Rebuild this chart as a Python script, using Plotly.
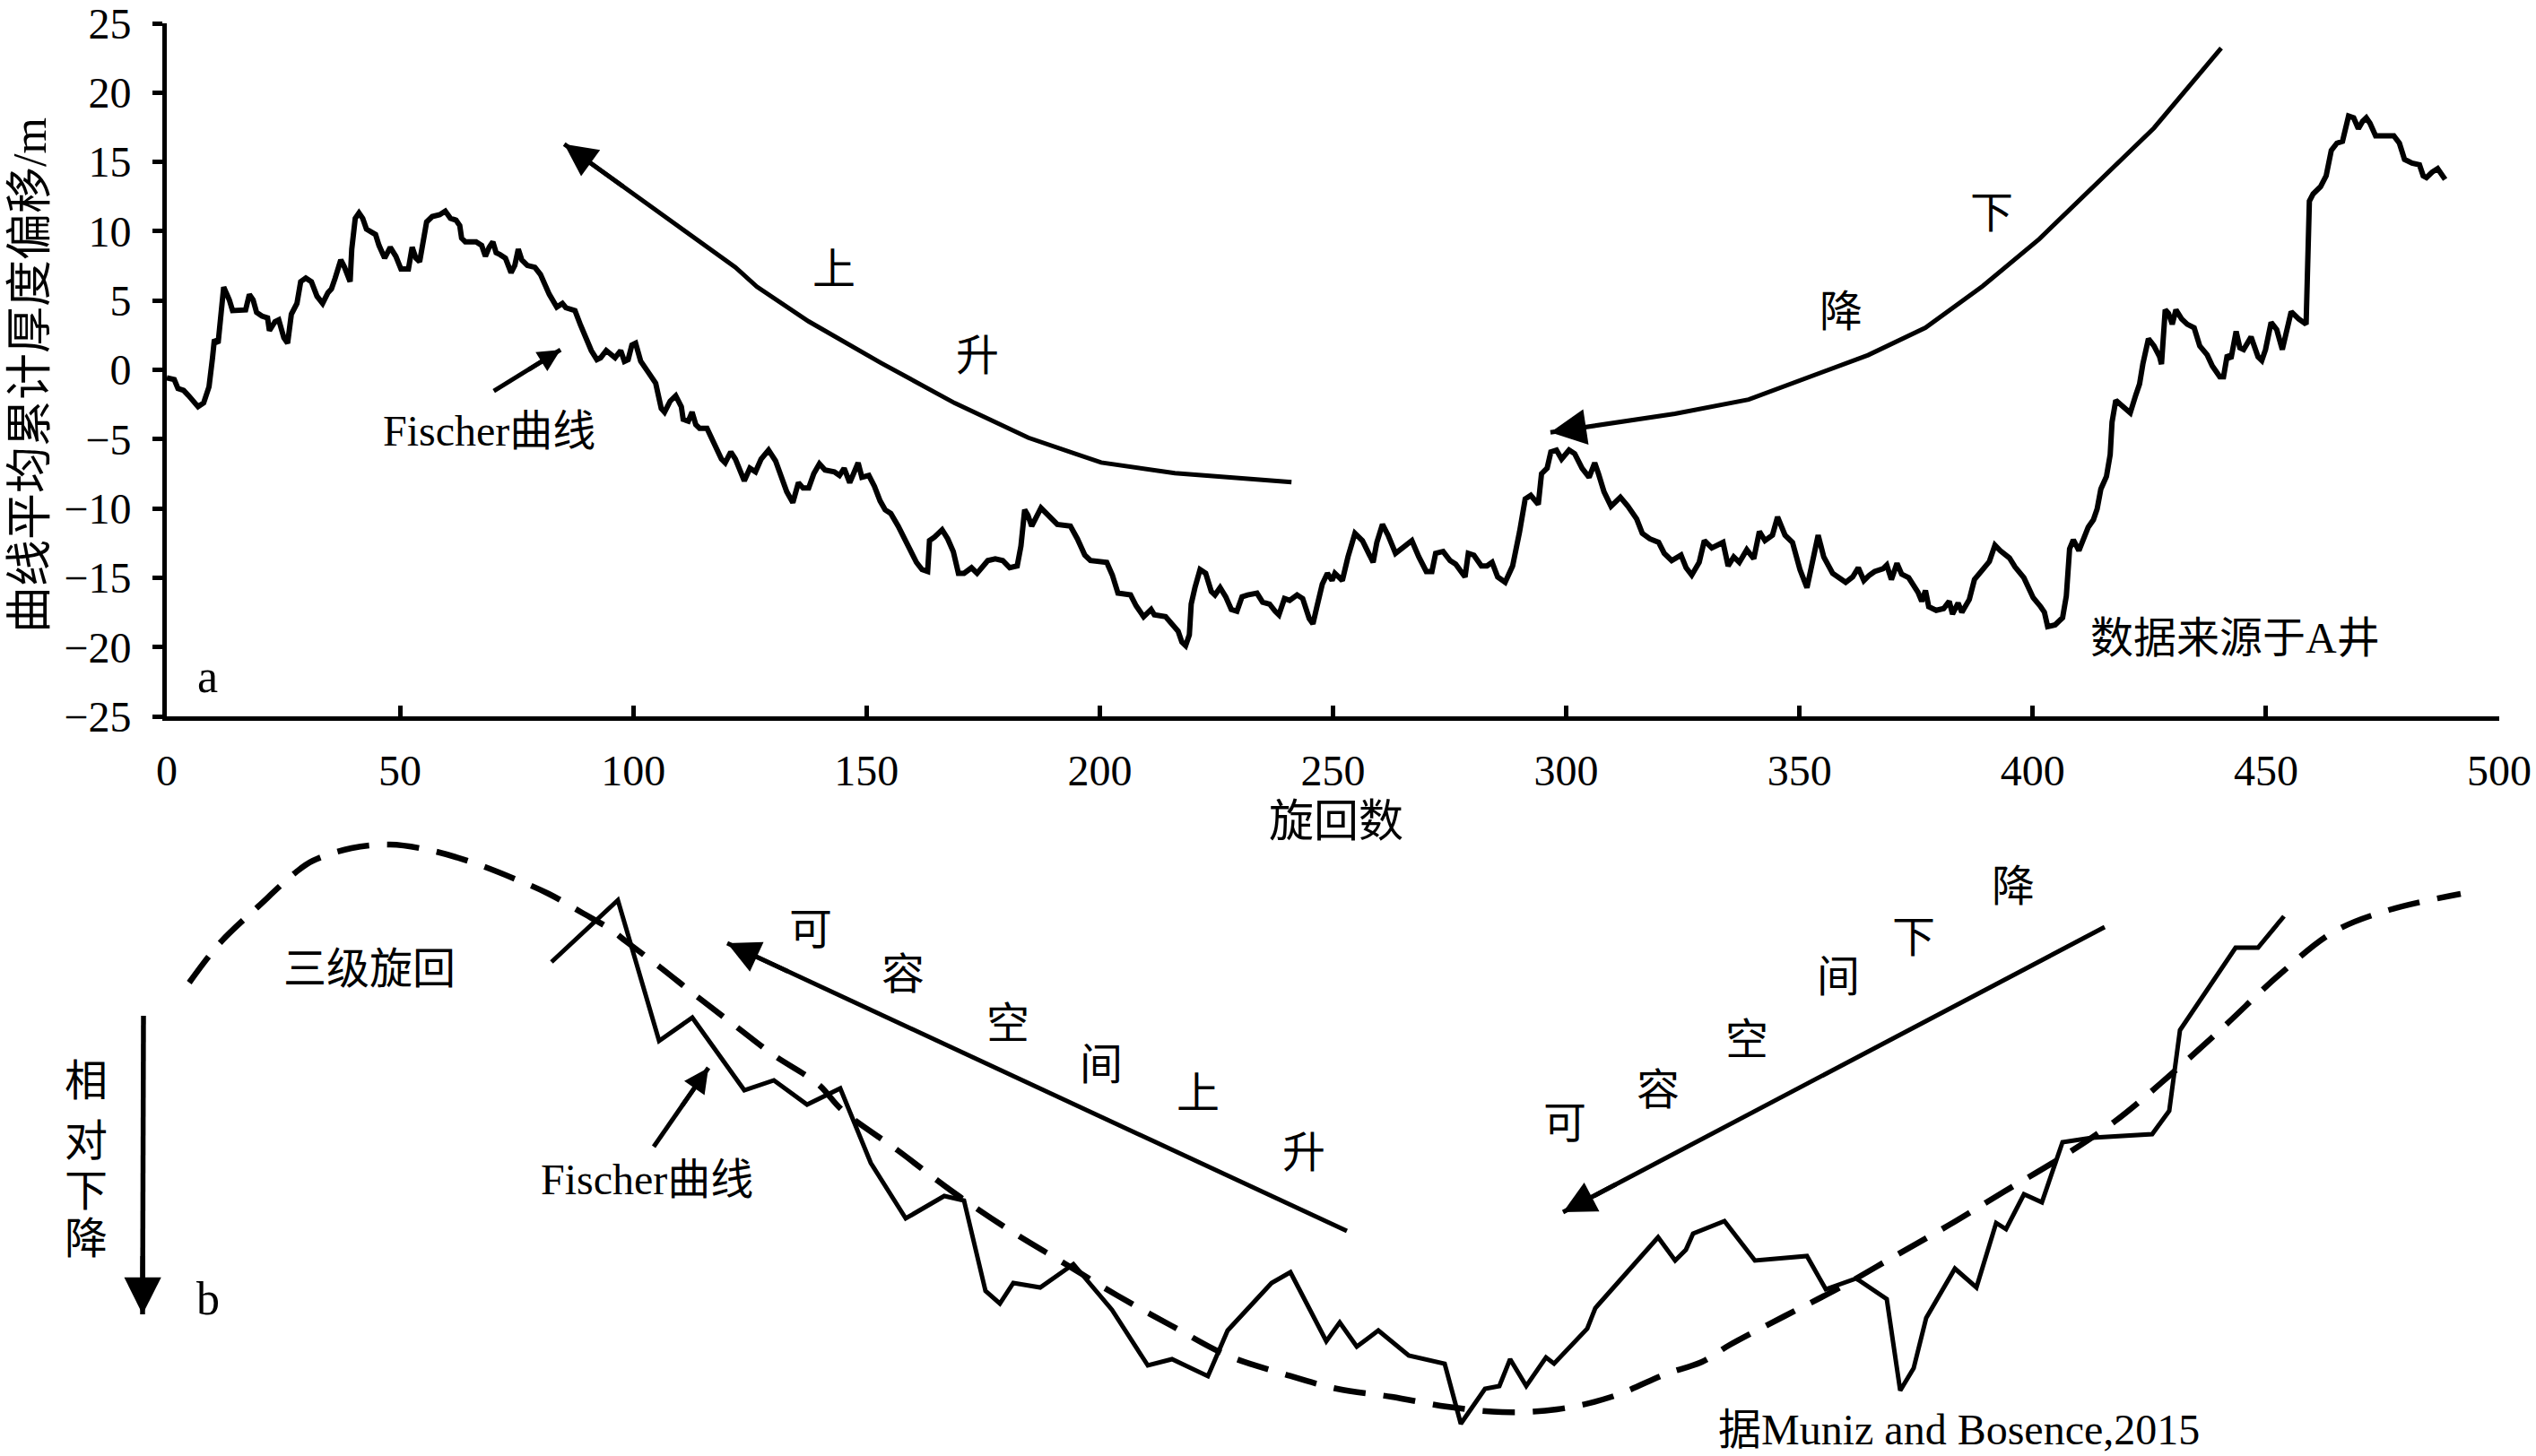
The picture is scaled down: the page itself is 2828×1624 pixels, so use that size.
import plotly.graph_objects as go

# ---------------- Top panel (a): Fischer curve of well A ----------------
cycle = [
    0.0, 1.6, 2.4, 3.6, 4.7, 6.7, 7.9, 9.05, 9.8, 10.2, 11.0, 11.4, 12.2, 13.4, 14.1, 16.9, 17.7, 18.5, 19.25,
    20.4, 21.6, 22.0, 23.2, 24.0, 25.1, 25.9, 26.7, 27.9, 28.7, 29.8, 31.0, 32.2, 33.4, 34.55, 35.3, 36.1,
    37.3, 38.1, 39.3, 39.65, 40.4, 41.2, 42.0, 42.8, 44.0, 44.75, 45.5, 46.7, 47.9, 49.1, 50.2, 51.8, 52.6,
    53.4, 54.2, 55.0, 55.7, 56.9, 58.5, 59.7, 60.8, 62.0, 62.8, 63.2, 64.0, 66.3, 67.5, 68.3, 69.1, 69.9,
    70.6, 71.4, 72.6, 73.8, 74.6, 75.35, 76.1, 77.3, 78.9, 80.1, 82.0, 83.6, 84.8, 85.55, 87.5, 88.7, 89.9,
    91.0, 92.2, 93.0, 94.2, 95.4, 96.1, 97.3, 98.1, 98.9, 99.7, 100.5, 101.6, 103.2, 104.8, 106.0, 106.7,
    107.9, 109.1, 110.3, 110.7, 111.8, 112.6, 113.4, 114.2, 115.8, 116.5, 117.7, 118.9, 119.7, 120.9,
    121.9, 123.8, 125.0, 126.2, 127.4, 129.0, 130.5, 131.7, 132.9, 134.2, 135.4, 136.4, 137.6, 138.7, 139.9,
    141.1, 143.1, 144.2, 145.2, 146.4, 148.2, 149.0, 150.5, 151.7, 152.9, 154.0, 155.2, 156.8, 158.4, 159.5,
    160.7, 161.9, 163.1, 163.5, 164.6, 166.2, 167.4, 168.6, 169.7, 170.9, 172.5, 173.7, 176.0, 177.6, 179.2,
    180.7, 182.3, 183.1, 183.9, 184.6, 185.4, 187.4, 189.4, 190.9, 193.7, 195.2, 196.8, 198.0, 201.5, 202.7,
    203.9, 206.6, 207.8, 209.4, 211.0, 211.7, 214.1, 215.3, 216.8, 217.6, 218.4, 219.2, 219.6, 220.4, 221.5,
    222.7, 223.9, 224.7, 225.8, 227.0, 228.2, 229.4, 230.5, 231.7, 233.7, 234.9, 236.4, 237.6, 238.4, 239.6,
    240.7, 242.3, 243.5,
    244.9, 245.7, 246.5, 247.7, 248.8, 249.8, 250.4, 252.0, 253.2, 254.7, 256.3, 257.5, 258.6, 259.4, 260.6,
    261.8, 263.4, 264.9, 266.9, 268.4, 270.0, 271.2, 272.0, 273.6, 275.1, 276.3, 277.5, 278.3, 279.0, 280.2,
    281.8, 283.0, 284.1, 285.3, 286.9, 288.5, 290.0, 291.2, 292.4, 294.0, 294.7, 295.9, 296.7, 297.9, 299.0,
    300.6, 301.8, 303.4, 304.9, 306.1, 306.9, 308.1, 309.6, 311.6, 313.2, 315.1, 316.3, 317.9, 319.8, 321.0,
    322.6, 324.6, 325.7, 326.9, 328.5, 329.6, 331.2, 333.6, 334.7, 335.9, 337.1, 338.7, 340.2, 341.4, 342.6,
    344.2, 345.3, 346.9, 348.5, 350.1, 351.6, 352.8, 354.0, 355.2, 357.1, 359.9, 361.4, 362.6, 363.8, 365.0,
    366.1,
    367.9, 368.7, 369.7, 370.9, 371.9, 373.4, 375.4, 376.2, 377.0, 377.7, 379.3, 380.9, 382.1, 382.8, 384.0,
    384.8, 386.4, 387.5, 389.1, 390.7, 391.9, 393.0, 395.0, 396.2, 398.1, 399.3, 400.1, 401.7, 402.5, 403.2,
    404.8, 406.4, 407.2, 407.9, 408.7, 409.9, 410.7, 411.9, 413.0, 413.8, 414.6, 415.8, 416.6, 417.0, 417.8,
    419.7, 420.9, 422.1, 422.9, 423.6, 424.8, 426.0, 427.2, 427.6, 428.4, 429.1, 429.9, 430.7, 431.9, 433.1,
    434.6, 435.8, 437.4, 438.5, 440.1, 440.9, 441.7, 442.5, 443.6, 444.4, 445.2, 446.8, 448.3, 449.1, 449.9,
    451.1, 452.3, 453.5, 454.2, 455.4, 457.0, 458.6, 459.3, 460.1, 461.7, 462.9, 464.0, 465.2, 466.4, 467.7,
    468.8, 469.8, 470.7, 471.5, 472.3, 473.5, 475.8, 477.4, 478.6, 479.7, 481.3, 482.9, 483.7, 484.4, 485.6,
    486.8, 488.4,
]
offset = [
    -0.57, -0.70, -1.35, -1.48, -1.87, -2.66, -2.39, -1.22, 0.87, 2.18, 1.92, 3.48, 5.97, 5.05, 4.27, 4.32, 5.44, 5.05, 4.14,
    3.88, 3.75, 2.83, 3.48, 3.61, 2.31, 1.92, 4.01, 4.79, 6.36, 6.62, 6.36, 5.31, 4.79, 5.57, 5.84, 6.62,
    7.93, 7.40, 6.36, 8.71, 10.93, 11.32, 10.93, 10.15, 9.89, 9.76, 8.97, 8.06, 8.84, 8.19, 7.27, 7.27, 8.84,
    8.06, 7.80, 9.50, 10.67, 11.06, 11.19, 11.45, 10.93, 10.80, 10.41, 9.50, 9.23, 9.23, 8.97, 8.19, 8.84, 9.23,
    8.45, 8.32, 8.06, 7.01, 7.53, 8.71, 7.93, 7.53, 7.40, 6.88, 5.44, 4.53, 4.79, 4.48, 4.27, 3.22, 2.31,
    1.39, 0.74, 0.87, 1.39, 1.13, 0.87, 1.39, 0.61, 0.74, 1.79, 1.92, 0.61, -0.17, -0.96, -2.79, -3.05,
    -2.26, -1.87, -2.66, -3.57, -3.70, -3.05, -3.96, -4.22, -4.22, -4.75, -5.66, -6.44, -6.71, -5.92,
    -6.44, -8.01, -7.10, -7.36, -6.44, -5.79, -6.57, -7.75, -8.80, -9.58, -8.14, -8.53, -8.53, -7.49, -6.78,
    -7.23, -7.36, -7.62, -7.10, -8.14, -6.71, -7.75, -7.62, -8.40, -9.45, -10.10, -10.36, -11.28, -12.32, -13.11,
    -13.89, -14.41, -14.55, -12.32, -12.06, -11.54, -12.19, -13.11, -14.68, -14.68, -14.28, -14.68, -13.76, -13.63, -13.76,
    -14.28, -14.15, -12.72, -10.10, -10.49, -11.28, -9.97, -10.62, -11.15, -11.28, -12.19, -13.37, -13.76, -13.89, -14.81,
    -16.11, -16.24, -17.03, -17.81, -17.29, -17.68, -17.81, -18.33, -18.86, -19.64, -19.90, -19.12, -16.90, -15.72, -14.41,
    -14.68, -15.98, -16.24, -15.72, -16.37, -17.29, -17.42, -16.37, -16.24, -16.11, -16.76, -16.90, -17.42, -17.68, -16.50,
    -16.63, -16.24, -16.50,
    -17.94, -18.33, -17.16, -15.46, -14.68, -15.20, -14.68, -15.20, -13.50, -11.80, -12.32, -13.24, -13.89, -12.45, -11.15,
    -11.93, -13.24, -12.85, -12.32, -13.50, -14.55, -14.55, -13.24, -13.11, -13.76, -14.02, -14.55, -14.94, -13.24, -13.37,
    -14.15, -14.15, -13.89, -14.94, -15.33, -14.15, -11.67, -9.32, -9.06, -9.71, -7.49, -7.10, -5.92, -5.79, -6.44,
    -5.79, -6.05, -7.10, -7.75, -6.71, -7.49, -8.80, -9.84, -9.19, -9.84, -10.76, -11.80, -12.19, -12.45, -13.24,
    -13.76, -13.37, -14.28, -14.81, -13.89, -12.32, -12.85, -12.45, -14.15, -13.50, -13.89, -12.98, -13.63, -11.67, -12.32,
    -11.93, -10.62, -11.93, -12.45, -14.41, -15.72, -14.02, -11.93, -13.50, -14.68, -15.33, -14.94, -14.28, -15.20, -14.81,
    -14.55,
    -14.35, -14.09, -15.13, -13.96, -14.74, -15.00, -16.05, -16.70, -15.92, -17.09, -17.35, -17.22, -16.70, -17.62, -16.83,
    -17.49, -16.57, -15.13, -14.48, -13.83, -12.65, -13.04, -13.57, -14.22, -15.00, -15.92, -16.44, -17.09, -17.49, -18.53,
    -18.40, -17.88, -16.31, -12.91, -12.26, -13.04, -12.26, -11.35, -10.82, -10.04, -8.60, -7.69, -6.12, -3.77, -2.20,
    -2.72, -3.11, -1.81, -1.02, 0.41, 2.24, 1.72, 0.94, 0.41, 4.33, 4.07, 3.29, 4.33, 3.68, 3.29,
    3.03, 1.72, 1.07, 0.28, -0.50, -0.50, 1.07, 0.81, 2.77, 1.59, 1.46, 2.37, 0.94, 0.68, 1.46,
    3.42, 2.90, 1.46, 2.50, 4.20, 3.68, 3.29, 12.17, 12.69, 13.22, 14.00, 15.83, 16.35, 16.48, 18.31,
    18.18, 17.40, 17.92, 18.18, 17.79, 16.88, 16.88, 16.88, 16.35, 15.18, 14.92, 14.79, 14.00, 13.87, 14.26,
    14.52, 13.74,
]

x_ticks = [0, 50, 100, 150, 200, 250, 300, 350, 400, 450, 500]
y_ticks = [-25, -20, -15, -10, -5, 0, 5, 10, 15, 20, 25]

# "上升" curved arrow (tip first)
rise_x = [85.2, 121.9, 126.5, 137.6, 153.2, 168.9, 184.7, 200.3, 216.1, 241.1]
rise_y = [16.29, 7.39, 5.99, 3.49, 0.48, -2.40, -4.90, -6.69, -7.46, -8.10]
# "下降" curved arrow (tip first)
fall_x = [296.6, 307.8, 323.3, 339.1, 348.7, 364.7, 377.0, 389.3, 401.4, 413.7, 426.0, 440.4]
fall_y = [-4.51, -3.94, -3.17, -2.14, -0.93, 1.06, 3.04, 6.05, 9.44, 13.41, 17.45, 23.21]
# pointer to Fischer curve (tip first)
ptr_a_x = [84.4, 70.1]
ptr_a_y = [1.44, -1.53]

# ---------------- Bottom panel (b): schematic (arbitrary units, y grows downward) ----------------
third_x = [211, 245, 288, 331, 349, 392, 435, 478, 527, 576, 612, 649, 680, 698, 735, 778, 821, 863, 912, 940,
           1001, 1062, 1124, 1185, 1246, 1307, 1369, 1430, 1491, 1552, 1614, 1675, 1736, 1797, 1859, 1898, 1929,
           1990, 2052, 2113, 2174, 2235, 2297, 2358, 2419, 2480, 2542, 2603, 2664, 2744]
third_y = [196, 152, 111, 72, 60, 46, 42, 48, 62, 81, 97, 118, 136, 150, 178, 212, 245, 277, 309, 339,
           383, 429, 471, 508, 545, 579, 612, 632, 649, 658, 669, 675, 672, 658, 632, 619, 600,
           568, 536, 501, 466, 429, 392, 351, 300, 245, 187, 139, 115, 97]

fis_b_x = [615, 689, 735, 772, 830, 863, 900, 937, 971, 1010, 1053, 1075, 1099, 1115, 1130, 1160, 1197, 1240,
           1280, 1307, 1347, 1369, 1418, 1439, 1479, 1494, 1513, 1537, 1571, 1611, 1629, 1656, 1672, 1684,
           1702, 1724, 1733, 1770, 1779, 1849, 1868, 1880, 1888, 1923, 1957, 2015, 2036, 2070, 2104, 2119,
           2134, 2148, 2180, 2204, 2226, 2237, 2257, 2277, 2300, 2333, 2400, 2419, 2431, 2493, 2518, 2547]
fis_b_y = [173, 104, 261, 235, 316, 305, 332, 314, 397, 459, 434, 439, 540, 554, 531, 536, 510, 561,
           623, 616, 635, 584, 531, 519, 596, 575, 602, 584, 612, 621, 688, 649, 646, 616,
           646, 614, 621, 582, 559, 480, 506, 494, 476, 462, 506, 501, 538, 526, 549, 651,
           626, 570, 515, 536, 464, 471, 432, 441, 374, 369, 365, 339, 249, 157, 157, 122]

acc_up_x = [811, 1502]
acc_up_y = [152, 473]
acc_dn_x = [1743, 2347]
acc_dn_y = [452, 134]
ptr_b_x = [790, 729]
ptr_b_y = [291, 379]
sub_x = [159, 160]
sub_y = [566, 233]

W, H = 2828, 1624
FONT = "Liberation Serif, Noto Sans CJK SC, serif"

fig = go.Figure()

def line(x, y, width, xa="x", ya="y", dash=None, shape="linear"):
    fig.add_trace(go.Scatter(x=x, y=y, mode="lines", xaxis=xa, yaxis=ya, hoverinfo="skip",
                             line=dict(color="black", width=width, dash=dash, shape=shape)))

line(cycle, offset, 6)
line(rise_x, rise_y, 5)
line(fall_x, fall_y, 5)
line(ptr_a_x, ptr_a_y, 5)

line(third_x, third_y, 6.5, "x2", "y2", dash="36px,20px", shape="spline")
line(fis_b_x, fis_b_y, 5, "x2", "y2")
line(acc_up_x, acc_up_y, 5, "x2", "y2")
line(acc_dn_x, acc_dn_y, 5, "x2", "y2")
line(ptr_b_x, ptr_b_y, 5, "x2", "y2")
line(sub_x, sub_y, 5.5, "x2", "y2")

annotations = []

def head(xs, ys, xref, yref, size, width, frac=0.35):
    x0, y0, x1, y1 = xs[0], ys[0], xs[1], ys[1]
    annotations.append(dict(x=x0, y=y0, ax=x0 + frac * (x1 - x0), ay=y0 + frac * (y1 - y0),
                            xref=xref, yref=yref, axref=xref, ayref=yref, text="", showarrow=True,
                            arrowhead=2, arrowsize=size, arrowwidth=width, arrowcolor="black", standoff=0))

head(rise_x, rise_y, "x", "y", 1.45, 5)
head(fall_x, fall_y, "x", "y", 1.6, 5, 0.6)
head(ptr_a_x, ptr_a_y, "x", "y", 1.0, 5, 0.5)
head(acc_up_x, acc_up_y, "x2", "y2", 1.45, 5, 0.1)
head(acc_dn_x, acc_dn_y, "x2", "y2", 1.45, 5, 0.1)
head(ptr_b_x, ptr_b_y, "x2", "y2", 1.1, 5, 0.5)
head(sub_x, sub_y, "x2", "y2", 1.5, 5.5, 0.2)

def txt(t, x, y, xref="x", yref="y", size=48, angle=0):
    annotations.append(dict(text=t, x=x, y=y, xref=xref, yref=yref, showarrow=False,
                            font=dict(family=FONT, size=size, color="black"),
                            xanchor="center", yanchor="middle", textangle=angle))

# top panel texts
txt("Fischer曲线", 69.2, -4.39)
txt("上", 143.0, 7.27)
txt("升", 173.8, 1.06)
txt("下", 391.2, 11.30)
txt("降", 358.9, 4.19)
txt("数据来源于A井", 443.3, -19.37)
txt("a", 8.65, -22.1, size=52)
# axis titles
txt("旋回数", 1490 / W, (H - 916) / H, "paper", "paper", size=50)
txt("曲线平均累计厚度偏移/m", 34 / W, (H - 419) / H, "paper", "paper", size=52, angle=-90)

# bottom panel texts
txt("三级旋回", 412, 180, "x2", "y2")
for ch, yy in zip("相对下降", [305, 372, 428, 481]):
    txt(ch, 96, yy, "x2", "y2")
txt("b", 232, 548, "x2", "y2", size=52)
txt("Fischer曲线", 721, 415, "x2", "y2")
for ch, xx, yy in zip("可容空间上升", [904, 1007, 1124, 1228, 1336, 1454], [136, 186, 241, 287, 319, 385]):
    txt(ch, xx, yy, "x2", "y2")
for ch, xx, yy in zip("可容空间下降", [1745, 1849, 1948, 2050, 2134, 2245], [352, 315, 259, 189, 145, 88]):
    txt(ch, xx, yy, "x2", "y2")
txt("据Muniz and Bosence,2015", 2184, 694, "x2", "y2")

axis_common = dict(tickcolor="black", showline=True, linecolor="black", showgrid=False,
                   zeroline=False, automargin=False, ticklabeloverflow="allow",
                   tickfont=dict(family=FONT, size=48))

fig.update_layout(
    width=W, height=H, autosize=False,
    margin=dict(l=0, r=0, t=0, b=0, pad=0, autoexpand=False),
    paper_bgcolor="white", plot_bgcolor="rgba(0,0,0,0)",
    showlegend=False, hovermode=False,
    font=dict(family=FONT, size=48, color="black"),
    xaxis=dict(domain=[186 / W, 2787 / W], range=[0, 500], tickvals=x_ticks,
               ticks="inside", ticklen=12, tickwidth=5, linewidth=5,
               ticklabelstandoff=14, anchor="y", **axis_common),
    yaxis=dict(domain=[(H - 799) / H, (H - 26) / H], range=[-25, 25], tickvals=y_ticks,
               ticks="outside", ticklen=11, tickwidth=5, linewidth=5,
               ticklabelstandoff=14, anchor="x", **axis_common),
    xaxis2=dict(domain=[0, 1], range=[0, W], visible=False, anchor="y2", automargin=False),
    yaxis2=dict(domain=[0, 724 / H], range=[724, 0], visible=False, anchor="x2", automargin=False),
    annotations=annotations,
)

fig.write_html(
    "out.html",
    config={"displayModeBar": False, "responsive": False},
    post_script="document.body.style.margin='0';document.documentElement.style.overflow='hidden';document.body.style.overflow='hidden';",
)
